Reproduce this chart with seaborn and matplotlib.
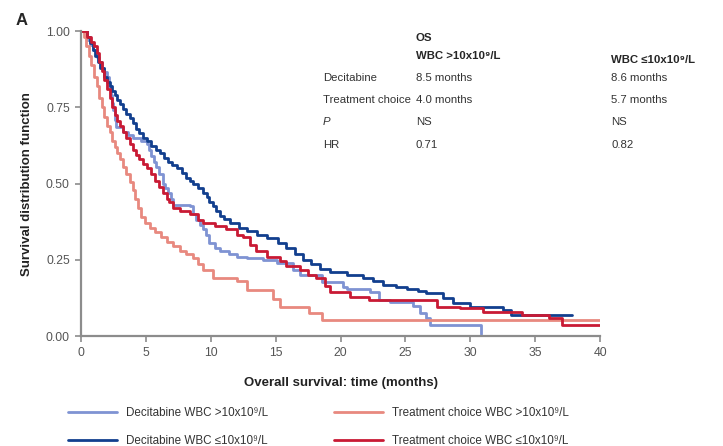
import numpy as np
import pandas as pd
import matplotlib
matplotlib.use("Agg")
import matplotlib.pyplot as plt
import seaborn as sns

# ── Kaplan-Meier step points (time in months, survival) ──
dec_hi_t = [0, 0.5, 0.7, 0.9, 1.2, 1.4, 1.6, 1.8, 2.0, 2.15, 2.3, 2.4, 2.5, 2.6, 2.7,
            3.2, 3.6, 4.0, 4.6, 5.1, 5.25, 5.4, 5.6, 5.8, 6.05, 6.3, 6.5, 6.7, 6.9,
            7.1, 8.4, 8.65, 8.9, 9.15, 9.4, 9.65, 9.9, 10.3, 10.7, 11.4, 12.0, 12.8,
            14.0, 15.1, 16.3, 16.9, 18.6, 20.2, 20.5, 22.3, 23.0, 23.8, 25.6, 26.1,
            26.6, 26.9, 30.8]
dec_hi_s = [1.0, 0.97, 0.955, 0.94, 0.915, 0.9, 0.88, 0.865, 0.85, 0.82, 0.79, 0.765,
            0.74, 0.71, 0.685, 0.67, 0.66, 0.65, 0.64, 0.63, 0.61, 0.59, 0.57, 0.555,
            0.53, 0.50, 0.485, 0.47, 0.45, 0.43, 0.425, 0.40, 0.38, 0.365, 0.35, 0.33,
            0.305, 0.29, 0.28, 0.27, 0.26, 0.255, 0.25, 0.24, 0.215, 0.20, 0.177,
            0.16, 0.155, 0.145, 0.118, 0.11, 0.10, 0.075, 0.06, 0.037, 0.005]

dec_lo_t = [0, 0.5, 0.7, 0.9, 1.1, 1.3, 1.5, 1.8, 2.0, 2.2, 2.4, 2.6, 2.8, 3.0, 3.25,
            3.5, 3.75, 4.0, 4.25, 4.5, 4.8, 5.1, 5.4, 5.8, 6.1, 6.4, 6.7, 7.0, 7.4,
            7.8, 8.1, 8.4, 8.6, 9.0, 9.4, 9.7, 9.9, 10.2, 10.4, 10.7, 11.0, 11.5,
            12.2, 12.8, 13.6, 14.3, 15.2, 15.8, 16.5, 17.1, 17.7, 18.4, 19.2, 20.5,
            21.7, 22.5, 23.3, 24.3, 25.1, 26.0, 26.6, 27.9, 28.7, 30.0, 32.5, 33.1,
            37.8]
dec_lo_s = [1.0, 0.98, 0.96, 0.94, 0.92, 0.90, 0.88, 0.85, 0.835, 0.82, 0.805, 0.79,
            0.775, 0.76, 0.745, 0.73, 0.715, 0.70, 0.68, 0.665, 0.65, 0.64, 0.625,
            0.61, 0.60, 0.585, 0.57, 0.56, 0.55, 0.535, 0.52, 0.51, 0.50, 0.485, 0.47,
            0.455, 0.44, 0.425, 0.41, 0.395, 0.385, 0.37, 0.355, 0.345, 0.33, 0.32,
            0.305, 0.29, 0.27, 0.25, 0.235, 0.22, 0.21, 0.20, 0.19, 0.18, 0.167,
            0.16, 0.155, 0.147, 0.14, 0.125, 0.108, 0.095, 0.085, 0.07, 0.07]

tc_hi_t = [0, 0.2, 0.4, 0.6, 0.8, 1.0, 1.2, 1.4, 1.6, 1.8, 2.0, 2.2, 2.4, 2.6, 2.8,
           3.0, 3.25, 3.5, 3.75, 4.0, 4.2, 4.4, 4.6, 4.9, 5.3, 5.7, 6.2, 6.6, 7.1,
           7.6, 8.1, 8.6, 9.0, 9.4, 10.2, 12.0, 12.8, 14.8, 15.3, 17.6, 18.6, 40]
tc_hi_s = [1.0, 0.98, 0.95, 0.92, 0.89, 0.85, 0.82, 0.78, 0.75, 0.72, 0.69, 0.67,
           0.64, 0.62, 0.60, 0.58, 0.555, 0.53, 0.505, 0.48, 0.45, 0.42, 0.39, 0.37,
           0.355, 0.34, 0.325, 0.31, 0.295, 0.28, 0.27, 0.255, 0.235, 0.215, 0.19,
           0.18, 0.15, 0.12, 0.095, 0.075, 0.052, 0.052]

tc_lo_t = [0, 0.5, 0.8, 1.0, 1.2, 1.4, 1.6, 1.8, 2.0, 2.2, 2.4, 2.6, 2.8, 3.0, 3.25,
           3.5, 3.75, 4.0, 4.25, 4.5, 4.8, 5.1, 5.4, 5.7, 6.0, 6.3, 6.6, 6.8, 7.1,
           7.6, 8.4, 9.0, 9.4, 10.3, 11.2, 12.0, 12.5, 13.0, 13.5, 14.3, 15.3, 15.8,
           16.9, 17.5, 18.1, 18.8, 19.2, 20.7, 22.2, 27.4, 29.2, 31.0, 34.0, 36.1,
           37.1, 40]
tc_lo_s = [1.0, 0.98, 0.965, 0.95, 0.93, 0.90, 0.87, 0.84, 0.81, 0.78, 0.75, 0.725,
           0.705, 0.69, 0.67, 0.65, 0.63, 0.61, 0.595, 0.58, 0.565, 0.55, 0.53, 0.51,
           0.49, 0.47, 0.45, 0.44, 0.42, 0.41, 0.40, 0.38, 0.37, 0.36, 0.35, 0.33,
           0.325, 0.30, 0.28, 0.26, 0.245, 0.23, 0.215, 0.20, 0.19, 0.165, 0.145,
           0.128, 0.118, 0.095, 0.092, 0.08, 0.07, 0.06, 0.037, 0.037]

groups = [u"Decitabine WBC >10x10\u2079/L", u"Decitabine WBC \u226410x10\u2079/L",
          u"Treatment choice WBC >10x10\u2079/L", u"Treatment choice WBC \u226410x10\u2079/L"]
colors = ["#7f93d3", "#123f8e", "#e8897f", "#c91a34"]

# table text
row_labels = ["Decitabine", "Treatment choice", "P", "HR"]
col_hi = ["8.5 months", "4.0 months", "NS", "0.71"]
col_lo = ["8.6 months", "5.7 months", "NS", "0.82"]

frames = []
for g, t, s in zip(groups, [dec_hi_t, dec_lo_t, tc_hi_t, tc_lo_t],
                   [dec_hi_s, dec_lo_s, tc_hi_s, tc_lo_s]):
    frames.append(pd.DataFrame({"time": t, "surv": s, "group": g}))
df = pd.concat(frames, ignore_index=True)

sns.set_style("ticks")
plt.rcParams["font.family"] = ["Liberation Sans", "DejaVu Sans"]

fig = plt.figure(figsize=(7.23, 4.46), dpi=100)
ax = fig.add_axes([0.112, 0.2466, 0.718, 0.6834])

sns.lineplot(data=df, x="time", y="surv", hue="group", hue_order=groups,
             palette=colors, estimator=None, sort=False, units="group",
             drawstyle="steps-post", lw=2.0, ax=ax, legend=True)

ax.set_xlim(0, 40)
ax.set_ylim(0, 1.0)
ax.set_xticks(np.arange(0, 41, 5))
ax.set_yticks([0, 0.25, 0.5, 0.75, 1.0])
ax.set_yticklabels(["0.00", "0.25", "0.50", "0.75", "1.00"])
for sp in ["top", "right"]:
    ax.spines[sp].set_visible(False)
for sp in ["left", "bottom"]:
    ax.spines[sp].set_color("#8c8c8c")
    ax.spines[sp].set_linewidth(1.6)
ax.tick_params(axis="both", length=4, width=1.2, color="#8c8c8c",
               labelsize=8.8, labelcolor="#555555", pad=4)

ax.set_xlabel("Overall survival: time (months)", fontsize=9.5, fontweight="bold",
              color="#222222", labelpad=13)
ax.set_ylabel("Survival distribution function", fontsize=9.5, fontweight="bold",
              color="#222222", labelpad=9)
fig.text(0.022, 0.955, "A", fontsize=12, fontweight="bold", ha="left", va="center")

# OS table
def fx(px):
    return px / 723.0

def fy(py):
    return 1 - py / 446.0

fig.text(fx(416), fy(38), "OS", fontsize=8.2, fontweight="bold", va="center")
fig.text(fx(416), fy(56), u"WBC >10x10\u2079/L", fontsize=8.2, fontweight="bold", va="center")
fig.text(fx(611), fy(60), u"WBC \u226410x10\u2079/L", fontsize=8.2, fontweight="bold", va="center")
row_y = [78, 100, 122, 145]
for lab, a, b, yy in zip(row_labels, col_hi, col_lo, row_y):
    fig.text(fx(323), fy(yy), lab, fontsize=8.2, color="#333333", va="center",
             style="italic" if lab == "P" else "normal")
    fig.text(fx(416), fy(yy), a, fontsize=8.2, color="#333333", va="center")
    fig.text(fx(611), fy(yy), b, fontsize=8.2, color="#333333", va="center")

handles, labels = ax.get_legend_handles_labels()
ax.legend(handles, labels, ncol=2, loc="upper left", bbox_to_anchor=(-0.045, -0.2),
          frameon=False, fontsize=8.4, handlelength=4.2, columnspacing=5.6,
          labelspacing=1.3, handletextpad=0.8, labelcolor="#333333")

fig.savefig("out.png", dpi=100)
